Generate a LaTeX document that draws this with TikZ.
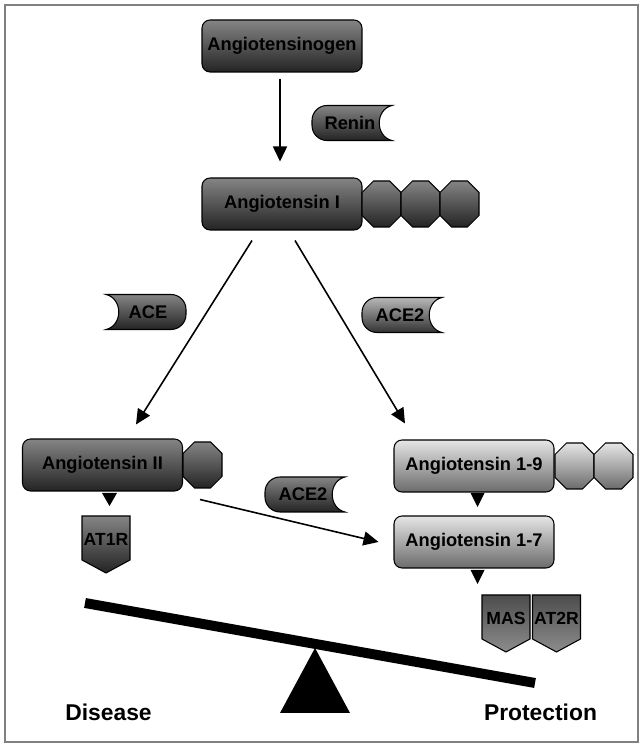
\documentclass[tikz,border=0pt]{standalone}
\usepackage{fontspec}
\setmainfont{Liberation Sans}
\usetikzlibrary{arrows.meta}

% enzyme: style, side of the cup (1 right, -1 left), x, y, name, text
\newcommand{\enzyme}[6]{%
  \shadedraw[#1] ({#3},{#4-17.5}) [rounded corners=0.3cm] -- ({#3-(#2)*40},{#4-17.5}) -- ({#3-(#2)*40},{#4+17.5}) -- ({#3},{#4+17.5})
    [sharp corners] -- ({#3+(#2)*40},{#4+17.5}) .. controls ({#3+(#2)*23},{#4+13.5}) and ({#3+(#2)*23},{#4-13.5}) .. ({#3+(#2)*40},{#4-17.5}) -- cycle;
  \node[lbl] (#5) at ({#3-(#2)*2},{#4}) {#6};}
% octagon: style, x, y
\newcommand{\octa}[3]{%
  \shadedraw[#1] ({#2-8},{#3+23}) -- ({#2+8},{#3+23}) -- ({#2+19.5},{#3+11.5}) -- ({#2+19.5},{#3-11.5})
    -- ({#2+8},{#3-23}) -- ({#2-8},{#3-23}) -- ({#2-19.5},{#3-11.5}) -- ({#2-19.5},{#3+11.5}) -- cycle;}
% receptor: style, x, top, name, text
\newcommand{\rcpt}[5]{%
  \shadedraw[#1] ({#2-24},{#3}) -- ({#2+24},{#3}) -- ({#2+24},{#3-44}) -- ({#2},{#3-57}) -- ({#2-24},{#3-44}) -- cycle;
  \node[rlbl] (#4) at ({#2},{#3-23}) {#5};}

\begin{document}
\begin{tikzpicture}[x=0.02cm, y=0.02cm,
  peptide/.style={rounded corners=0.16cm, minimum width=3.2cm, minimum height=1.04cm, inner sep=0pt, font=\bfseries\fontsize{10.4}{12}\selectfont},
  dark/.style={draw=black, line width=0.6pt, top color=black!48, bottom color=black!86},
  medium/.style={draw=black, line width=0.6pt, top color=black!28, bottom color=black!80},
  light/.style={draw=black, line width=0.6pt, top color=black!10, bottom color=black!58},
  rgray/.style={draw=black, line width=0.6pt, top color=black!70, bottom color=black!45},
  lbl/.style={font=\bfseries\fontsize{10.4}{12}\selectfont, inner sep=0pt},
  rlbl/.style={font=\bfseries\fontsize{10}{12}\selectfont, inner sep=0pt},
  pathway/.style={-{Triangle[length=0.3cm, width=0.28cm]}, line width=0.9pt},
  pointer/.style={fill=black}]
\useasboundingbox (0,0) rectangle (643,747);
\draw[black!50, line width=1.2pt] (5,5) rectangle (638,742);

% balance
\draw[line width=0.2cm] (85,144) -- (535,64);
\fill (315,99) -- (350,34) -- (280,34) -- cycle;
\node[font=\bfseries\fontsize{13}{15}\selectfont] (dis) at (108.5,35) {Disease};
\node[font=\bfseries\fontsize{13}{15}\selectfont] (pro) at (540.5,35) {Protection};

% peptides
\node[peptide, dark] (agt) at (282,701) {Angiotensinogen};
\node[peptide, dark] (ang1) at (282,543) {Angiotensin I};
\foreach \x in {381.5,420.5,459.5} \octa{dark}{\x}{543};
\node[peptide, dark] (ang2) at (102.5,282) {Angiotensin II};
\octa{dark}{202.5}{282}
\node[peptide, light] (ang19) at (474,281) {Angiotensin 1-9};
\foreach \x in {574.5,613.5} \octa{light}{\x}{281};
\node[peptide, light] (ang17) at (474,205) {Angiotensin 1-7};

% enzymes
\enzyme{dark}{1}{352}{624}{renin}{Renin}
\enzyme{dark}{-1}{146}{435}{ace}{ACE}
\enzyme{medium}{1}{402}{432}{ace2a}{ACE2}
\enzyme{dark}{1}{305}{252.5}{ace2b}{ACE2}

% receptors
\rcpt{dark}{106}{231}{at1r}{AT1R}
\rcpt{rgray}{506}{152}{mas}{MAS}
\rcpt{rgray}{556.5}{152}{at2r}{AT2R}
\fill[pointer] (102,254) -- (117,254) -- (109.5,241) -- cycle;
\fill[pointer] (470.5,254) -- (484.5,254) -- (477.5,240) -- cycle;
\fill[pointer] (470.5,177) -- (484.5,177) -- (477.5,163) -- cycle;

% conversions
\draw[pathway] ([xshift=-0.04cm, yshift=-0.12cm]agt.south) -- ([xshift=-0.04cm, yshift=0.32cm]ang1.north);
\draw[pathway] ([xshift=-0.6cm, yshift=-0.2cm]ang1.south) -- ([xshift=0.67cm, yshift=0.28cm]ang2.north);
\draw[pathway] ([xshift=0.26cm, yshift=-0.2cm]ang1.south) -- ([xshift=-1.38cm, yshift=0.32cm]ang19.north);
\draw[pathway] ([xshift=0.34cm, yshift=-0.16cm]ang2.south east) -- ([xshift=-0.3cm]ang17.west);
\end{tikzpicture}
\end{document}
